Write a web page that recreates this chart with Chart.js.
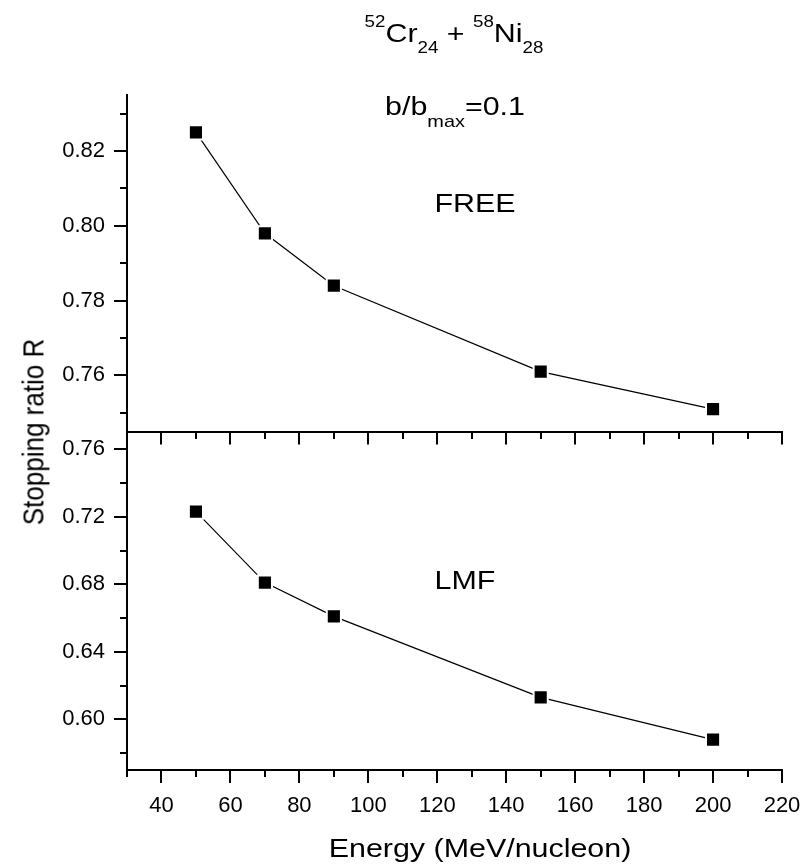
<!DOCTYPE html>
<html>
<head>
<meta charset="utf-8">
<script src="https://cdn.jsdelivr.net/npm/chart.js@4.4.1/dist/chart.umd.min.js"></script>
<style>
  html, body { margin: 0; padding: 0; background: #fff; }
  #wrap { position: relative; width: 801px; height: 867px; overflow: hidden;
          font-family: "Liberation Sans", Arial, sans-serif; color: #000; }
  canvas { position: absolute; left: 0; top: 0; }
  .lbl { position: absolute; white-space: nowrap; line-height: 1;
         transform: translate(-50%, -50%) scaleX(1.17); }
  .sup { font-size: 16px; position: relative; top: -15px; }
  .sub { font-size: 16px; position: relative; top: 11px; }
  .sub2 { font-size: 17px; position: relative; top: 12px; }
</style>
</head>
<body>
<div id="wrap">
  <canvas id="freeChart" width="801" height="867"></canvas>
  <canvas id="lmfChart" width="801" height="867"></canvas>
  <div class="lbl" style="left:454px; top:33px; font-size:26px;"><span class="sup">52</span>Cr<span class="sub">24</span> + <span class="sup">58</span>Ni<span class="sub">28</span></div>
  <div class="lbl" style="left:455px; top:106px; font-size:26px;">b/b<span class="sub2">max</span>=0.1</div>
  <div class="lbl" style="left:475px; top:203px; font-size:26px;">FREE</div>
  <div class="lbl" style="left:465px; top:580px; font-size:26px;">LMF</div>
  <div class="lbl" style="left:33px; top:432px; font-size:26px; transform: translate(-50%, -50%) rotate(-90deg) scaleY(1.17);">Stopping ratio R</div>
  <div class="lbl" style="left:480px; top:848px; font-size:26px;">Energy (MeV/nucleon)</div>
</div>
<script>
// Beam energy (MeV/nucleon) and stopping ratio for the two calculations
const energies = [50, 70, 90, 150, 200];
const ratioFree = [0.825, 0.798, 0.784, 0.761, 0.751];
const ratioLmf = [0.723, 0.681, 0.661, 0.613, 0.588];

// Axis ticks
const energyTicks = [40, 60, 80, 100, 120, 140, 160, 180, 200, 220];
const energyMinorTicks = [30, 50, 70, 90, 110, 130, 150, 170, 190, 210];
const freeTicks = [0.76, 0.78, 0.80, 0.82];
const freeMinorTicks = [0.75, 0.77, 0.79, 0.81, 0.83];
const lmfTicks = [0.60, 0.64, 0.68, 0.72, 0.76];
const lmfMinorTicks = [0.58, 0.62, 0.66, 0.70, 0.74];

const FONT = '"Liberation Sans", Arial, sans-serif';
const W = 801, H = 867;
const PLOT_LEFT = 127, PLOT_RIGHT = 782, PLOT_TOP = 95, SPLIT = 431.5, PLOT_BOTTOM = 770;
const MAJOR_LEN = 13, MINOR_LEN = 7;

// Short minor tick marks drawn through the chart's own scales
const minorTickPlugin = {
  id: 'minorTicks',
  afterDraw(chart, args, opts) {
    const ctx = chart.ctx;
    const xs = chart.scales.x, ys = chart.scales.y;
    ctx.save();
    ctx.strokeStyle = '#000';
    ctx.lineWidth = 2;
    ctx.beginPath();
    opts.x.forEach(v => {
      const px = Math.round(xs.getPixelForValue(v));
      ctx.moveTo(px, Math.round(xs.top));
      ctx.lineTo(px, Math.round(xs.top) + MINOR_LEN);
    });
    opts.y.forEach(v => {
      const py = Math.round(ys.getPixelForValue(v));
      ctx.moveTo(Math.round(ys.right) - MINOR_LEN, py);
      ctx.lineTo(Math.round(ys.right), py);
    });
    ctx.stroke();
    ctx.restore();
  }
};

const gridOpts = {
  drawOnChartArea: false, drawTicks: true, tickLength: MAJOR_LEN,
  tickWidth: 2, tickColor: '#000', color: '#000', lineWidth: 2
};
const borderOpts = { display: true, color: '#000', width: 2 };

function series(ys) {
  return {
    data: energies.map((e, i) => ({ x: e, y: ys[i] })),
    borderColor: '#000', borderWidth: 1.2,
    pointStyle: 'rect', pointRadius: 10, pointHoverRadius: 10,
    pointBackgroundColor: '#000', pointBorderColor: '#fff', pointBorderWidth: 2,
    fill: false, tension: 0
  };
}

function yScale(min, max, ticks) {
  return {
    type: 'linear', min, max,
    afterBuildTicks: s => { s.ticks = ticks.map(v => ({ value: v })); },
    afterFit: s => { s.width = PLOT_LEFT; s.paddingTop = 0; s.paddingBottom = 0; },
    grid: gridOpts, border: borderOpts,
    ticks: { color: '#000', autoSkip: false, padding: 9,
             font: { family: FONT, size: 22 }, callback: v => Number(v).toFixed(2) }
  };
}

function xScale(height, showLabels) {
  return {
    type: 'linear', min: 30, max: 220,
    afterBuildTicks: s => { s.ticks = energyTicks.map(v => ({ value: v })); },
    afterFit: s => { s.height = height; s.paddingLeft = 0; s.paddingRight = 0; },
    grid: gridOpts, border: borderOpts,
    ticks: { display: showLabels, color: '#000', autoSkip: false, maxRotation: 0, padding: 10,
             font: { family: FONT, size: 22 }, callback: v => String(v) }
  };
}

function baseOptions(padding) {
  return {
    responsive: false, animation: false, devicePixelRatio: 1,
    layout: { padding },
    events: []
  };
}

// Upper panel: FREE
new Chart(document.getElementById('freeChart'), {
  type: 'line',
  data: { datasets: [series(ratioFree)] },
  options: Object.assign(baseOptions({ left: 0, top: PLOT_TOP, right: W - PLOT_RIGHT, bottom: H - SPLIT }), {
    scales: { x: xScale(0, false), y: yScale(0.745, 0.835, freeTicks) },
    plugins: { legend: { display: false }, tooltip: { enabled: false },
               minorTicks: { x: energyMinorTicks, y: freeMinorTicks } }
  }),
  plugins: [minorTickPlugin]
});

// Lower panel: LMF
new Chart(document.getElementById('lmfChart'), {
  type: 'line',
  data: { datasets: [series(ratioLmf)] },
  options: Object.assign(baseOptions({ left: 0, top: SPLIT, right: W - PLOT_RIGHT, bottom: 0 }), {
    scales: { x: xScale(H - PLOT_BOTTOM, true), y: yScale(0.57, 0.7705, lmfTicks) },
    plugins: { legend: { display: false }, tooltip: { enabled: false },
               minorTicks: { x: energyMinorTicks, y: lmfMinorTicks } }
  }),
  plugins: [minorTickPlugin]
});
</script>
</body>
</html>
